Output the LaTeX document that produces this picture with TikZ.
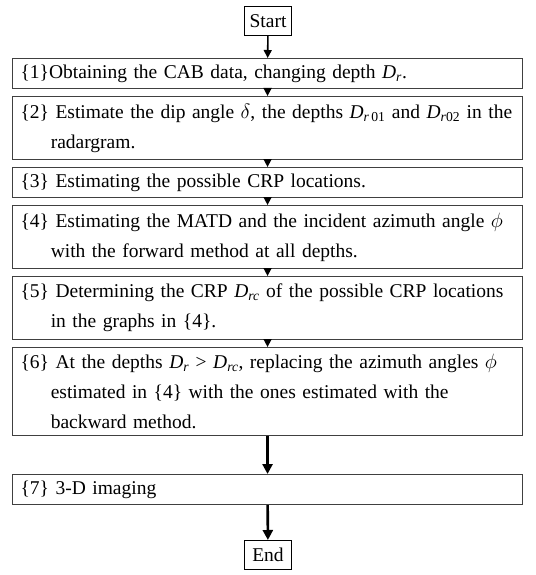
\documentclass[tikz,border=0pt]{standalone}
\usepackage{fontspec}
\setmainfont{Liberation Serif}
\usetikzlibrary{arrows.meta}
\newcommand{\Dsub}[1]{\textit{D}\textsubscript{#1}}
\newcommand{\hang}{\hspace*{1.55em}}

\begin{document}
\begin{tikzpicture}[x=1pt,y=-1pt]
      \tikzset{stepbox/.style={draw=black!75,
          line width=1.1pt,
          anchor=north west,
          inner xsep=8pt, inner ysep=0pt,
          text width=494pt,
          minimum height=#1,
          align=left,
          font=\fontsize{19.5}{30}\selectfont},
        termbox/.style={draw=black,
          line width=1pt,
          anchor=north,
          minimum width=47pt, minimum height=29pt,
          inner sep=0pt,
          font=\fontsize{19.5}{23}\selectfont},
        flow/.style={-{Triangle[length=8pt,width=8pt]}, line width=1.6pt},
        longflow/.style={-{Triangle[length=10pt,width=10pt]}, line width=2.6pt}
      }
      \useasboundingbox (0,0) rectangle (535,575);

      \node [termbox] (start) at (268,6) {Start};
      \node [stepbox=30pt] (s1) at (12,58) {\{1\}Obtaining the CAB data, changing depth \Dsub{\textit{r}}.};
      \node [stepbox=63pt] (s2) at (12,96) {\{2\} Estimate the dip angle $\delta$, the depths \Dsub{\textit{r}\,01} and \Dsub{\textit{r}02} in the\\ \hang radargram.};
      \node [stepbox=30pt] (s3) at (12,167) {\{3\} Estimating the possible CRP locations.};
      \node [stepbox=63pt] (s4) at (12,205) {\{4\} Estimating the MATD and the incident azimuth angle $\phi$\\ \hang with the forward method at all depths.};
      \node [stepbox=63pt] (s5) at (12,276) {\{5\} Determining the CRP \Dsub{\textit{rc}} of the possible CRP locations\\ \hang in the graphs in \{4\}.};
      \node [stepbox=88pt] (s6) at (12,347) {\{6\} At the depths \Dsub{\textit{r}} > \Dsub{\textit{rc}}, replacing the azimuth angles $\phi$\\ \hang estimated in \{4\} with the ones estimated with the\\ \hang backward method.};
      \node [stepbox=30pt] (s7) at (12,474) {\{7\} 3-D imaging};
      \node [termbox] (end) at (268,540) {End};

      \draw [flow] (start) -- (s1);
      \draw [flow] (s1) -- (s2);
      \draw [flow] (s2) -- (s3);
      \draw [flow] (s3) -- (s4);
      \draw [flow] (s4) -- (s5);
      \draw [flow] (s5) -- (s6);
      \draw [longflow] (s6) -- (s7);
      \draw [longflow] (s7) -- (end);

    \end{tikzpicture}
\end{document}
